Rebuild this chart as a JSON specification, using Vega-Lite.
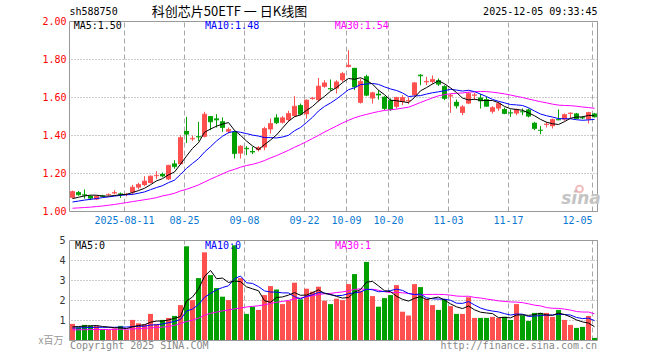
{
"$schema":"https://vega.github.io/schema/vega-lite/v6.json",
"width":528,"height":191,
"autosize":{"type":"none"},
"padding":{"left":69.5,"top":21,"right":62.5,"bottom":148},
"background":"white",
"view":{"stroke":null},
"config":{"text":{"font":"DejaVu Sans Mono","fontSize":10}},
"datasets":{
"pt":[{"p":1.0},{"p":1.2},{"p":1.4},{"p":1.6},{"p":1.8},{"p":2.0}],
"vt":[{"q":1},{"q":2},{"q":3},{"q":4},{"q":5}],
"g":[{"d":"2025-08-11","t":"2025-08-11"},{"d":"2025-08-25","t":"08-25"},{"d":"2025-09-08","t":"09-08"},{"d":"2025-09-22","t":"09-22"},{"d":"2025-10-09","t":"10-09"},{"d":"2025-10-20","t":"10-20"},{"d":"2025-11-03","t":"11-03"},{"d":"2025-11-17","t":"11-17"},{"d":"2025-12-05","t":"12-05"}],
"k":[
{"d":"2025-07-29","o":1.072,"h":1.110,"l":1.068,"c":1.105,"v":0.83,"m5":1.068,"m10":1.050,"m30":1.017,"vm5":0.68,"vm10":0.62,"vm30":0.53},
{"d":"2025-07-30","o":1.102,"h":1.108,"l":1.083,"c":1.088,"v":0.66,"m5":1.075,"m10":1.055,"m30":1.019,"vm5":0.70,"vm10":0.63,"vm30":0.535},
{"d":"2025-07-31","o":1.090,"h":1.116,"l":1.068,"c":1.086,"v":0.78,"m5":1.082,"m10":1.060,"m30":1.021,"vm5":0.72,"vm10":0.64,"vm30":0.54},
{"d":"2025-08-01","o":1.082,"h":1.085,"l":1.060,"c":1.070,"v":0.75,"m5":1.086,"m10":1.064,"m30":1.023,"vm5":0.73,"vm10":0.65,"vm30":0.545},
{"d":"2025-08-04","o":1.063,"h":1.085,"l":1.060,"c":1.081,"v":0.73,"m5":1.086,"m10":1.068,"m30":1.026,"vm5":0.75,"vm10":0.66,"vm30":0.55},
{"d":"2025-08-05","o":1.084,"h":1.088,"l":1.076,"c":1.080,"v":0.58,"m5":1.081,"m10":1.073,"m30":1.029,"vm5":0.70,"vm10":0.66,"vm30":0.55},
{"d":"2025-08-06","o":1.087,"h":1.095,"l":1.082,"c":1.090,"v":0.53,"m5":1.081,"m10":1.077,"m30":1.033,"vm5":0.674,"vm10":0.66,"vm30":0.555},
{"d":"2025-08-07","o":1.095,"h":1.112,"l":1.090,"c":1.100,"v":0.60,"m5":1.084,"m10":1.081,"m30":1.037,"vm5":0.638,"vm10":0.66,"vm30":0.56},
{"d":"2025-08-08","o":1.095,"h":1.100,"l":1.072,"c":1.090,"v":0.73,"m5":1.088,"m10":1.085,"m30":1.042,"vm5":0.634,"vm10":0.67,"vm30":0.56},
{"d":"2025-08-11","o":1.089,"h":1.098,"l":1.080,"c":1.091,"v":0.53,"m5":1.090,"m10":1.088,"m30":1.047,"vm5":0.594,"vm10":0.672,"vm30":0.57},
{"d":"2025-08-12","o":1.100,"h":1.140,"l":1.086,"c":1.128,"v":1.03,"m5":1.100,"m10":1.090,"m30":1.052,"vm5":0.684,"vm10":0.692,"vm30":0.58},
{"d":"2025-08-13","o":1.126,"h":1.151,"l":1.116,"c":1.142,"v":0.86,"m5":1.110,"m10":1.096,"m30":1.057,"vm5":0.75,"vm10":0.712,"vm30":0.59},
{"d":"2025-08-14","o":1.139,"h":1.186,"l":1.133,"c":1.160,"v":0.81,"m5":1.122,"m10":1.103,"m30":1.062,"vm5":0.792,"vm10":0.715,"vm30":0.61},
{"d":"2025-08-15","o":1.150,"h":1.190,"l":1.148,"c":1.186,"v":1.33,"m5":1.141,"m10":1.115,"m30":1.067,"vm5":0.912,"vm10":0.773,"vm30":0.63},
{"d":"2025-08-18","o":1.186,"h":1.212,"l":1.170,"c":1.190,"v":0.83,"m5":1.161,"m10":1.126,"m30":1.073,"vm5":0.972,"vm10":0.783,"vm30":0.65},
{"d":"2025-08-19","o":1.198,"h":1.205,"l":1.180,"c":1.187,"v":1.03,"m5":1.173,"m10":1.136,"m30":1.082,"vm5":0.972,"vm10":0.828,"vm30":0.67},
{"d":"2025-08-20","o":1.169,"h":1.246,"l":1.165,"c":1.243,"v":1.13,"m5":1.193,"m10":1.152,"m30":1.088,"vm5":1.026,"vm10":0.888,"vm30":0.70},
{"d":"2025-08-21","o":1.253,"h":1.270,"l":1.225,"c":1.236,"v":1.23,"m5":1.208,"m10":1.165,"m30":1.096,"vm5":1.11,"vm10":0.951,"vm30":0.76},
{"d":"2025-08-22","o":1.249,"h":1.402,"l":1.245,"c":1.389,"v":1.77,"m5":1.249,"m10":1.195,"m30":1.108,"vm5":1.198,"vm10":1.055,"vm30":0.85},
{"d":"2025-08-25","o":1.424,"h":1.498,"l":1.361,"c":1.407,"v":4.71,"m5":1.292,"m10":1.227,"m30":1.117,"vm5":1.974,"vm10":1.473,"vm30":0.95},
{"d":"2025-08-26","o":1.380,"h":1.400,"l":1.372,"c":1.385,"v":2.02,"m5":1.332,"m10":1.253,"m30":1.128,"vm5":2.172,"vm10":1.572,"vm30":1.02},
{"d":"2025-08-27","o":1.396,"h":1.472,"l":1.372,"c":1.392,"v":3.12,"m5":1.362,"m10":1.278,"m30":1.140,"vm5":2.57,"vm10":1.798,"vm30":1.12},
{"d":"2025-08-28","o":1.393,"h":1.525,"l":1.390,"c":1.512,"v":4.41,"m5":1.417,"m10":1.313,"m30":1.155,"vm5":3.206,"vm10":2.158,"vm30":1.26},
{"d":"2025-08-29","o":1.502,"h":1.503,"l":1.428,"c":1.472,"v":3.27,"m5":1.434,"m10":1.341,"m30":1.170,"vm5":3.506,"vm10":2.352,"vm30":1.36},
{"d":"2025-09-01","o":1.490,"h":1.512,"l":1.442,"c":1.482,"v":2.62,"m5":1.449,"m10":1.371,"m30":1.184,"vm5":3.088,"vm10":2.531,"vm30":1.42},
{"d":"2025-09-02","o":1.475,"h":1.495,"l":1.419,"c":1.442,"v":2.19,"m5":1.460,"m10":1.396,"m30":1.198,"vm5":3.122,"vm10":2.647,"vm30":1.48},
{"d":"2025-09-03","o":1.420,"h":1.442,"l":1.412,"c":1.432,"v":2.02,"m5":1.468,"m10":1.415,"m30":1.212,"vm5":2.902,"vm10":2.736,"vm30":1.53},
{"d":"2025-09-04","o":1.419,"h":1.425,"l":1.279,"c":1.305,"v":4.76,"m5":1.427,"m10":1.422,"m30":1.222,"vm5":2.972,"vm10":3.089,"vm30":1.58},
{"d":"2025-09-05","o":1.305,"h":1.349,"l":1.279,"c":1.344,"v":3.12,"m5":1.401,"m10":1.417,"m30":1.233,"vm5":2.942,"vm10":3.224,"vm30":1.62},
{"d":"2025-09-08","o":1.335,"h":1.344,"l":1.297,"c":1.330,"v":1.33,"m5":1.371,"m10":1.410,"m30":1.242,"vm5":2.684,"vm10":2.886,"vm30":1.678},
{"d":"2025-09-09","o":1.318,"h":1.340,"l":1.302,"c":1.313,"v":1.69,"m5":1.345,"m10":1.402,"m30":1.248,"vm5":2.584,"vm10":2.853,"vm30":1.707},
{"d":"2025-09-10","o":1.323,"h":1.344,"l":1.316,"c":1.337,"v":1.53,"m5":1.326,"m10":1.397,"m30":1.257,"vm5":2.486,"vm10":2.694,"vm30":1.736},
{"d":"2025-09-11","o":1.337,"h":1.446,"l":1.323,"c":1.437,"v":2.27,"m5":1.352,"m10":1.389,"m30":1.268,"vm5":1.988,"vm10":2.48,"vm30":1.785},
{"d":"2025-09-12","o":1.432,"h":1.489,"l":1.410,"c":1.463,"v":2.72,"m5":1.376,"m10":1.389,"m30":1.282,"vm5":1.908,"vm10":2.425,"vm30":1.851},
{"d":"2025-09-15","o":1.495,"h":1.512,"l":1.460,"c":1.467,"v":2.55,"m5":1.403,"m10":1.387,"m30":1.294,"vm5":2.152,"vm10":2.418,"vm30":1.912},
{"d":"2025-09-16","o":1.467,"h":1.502,"l":1.463,"c":1.493,"v":1.82,"m5":1.439,"m10":1.392,"m30":1.308,"vm5":2.178,"vm10":2.381,"vm30":1.953},
{"d":"2025-09-17","o":1.481,"h":1.530,"l":1.472,"c":1.516,"v":1.99,"m5":1.475,"m10":1.401,"m30":1.322,"vm5":2.27,"vm10":2.378,"vm30":2.002},
{"d":"2025-09-18","o":1.502,"h":1.607,"l":1.498,"c":1.554,"v":2.89,"m5":1.499,"m10":1.425,"m30":1.338,"vm5":2.394,"vm10":2.191,"vm30":2.078},
{"d":"2025-09-19","o":1.560,"h":1.568,"l":1.507,"c":1.512,"v":2.06,"m5":1.508,"m10":1.442,"m30":1.352,"vm5":2.262,"vm10":2.085,"vm30":2.122},
{"d":"2025-09-22","o":1.512,"h":1.590,"l":1.489,"c":1.586,"v":2.59,"m5":1.532,"m10":1.468,"m30":1.368,"vm5":2.27,"vm10":2.211,"vm30":2.191},
{"d":"2025-09-23","o":1.592,"h":1.603,"l":1.588,"c":1.597,"v":2.44,"m5":1.553,"m10":1.496,"m30":1.384,"vm5":2.394,"vm10":2.286,"vm30":2.238},
{"d":"2025-09-24","o":1.586,"h":1.703,"l":1.577,"c":1.660,"v":2.69,"m5":1.582,"m10":1.529,"m30":1.401,"vm5":2.534,"vm10":2.402,"vm30":2.299},
{"d":"2025-09-25","o":1.656,"h":1.691,"l":1.651,"c":1.677,"v":1.99,"m5":1.606,"m10":1.553,"m30":1.418,"vm5":2.354,"vm10":2.374,"vm30":2.338},
{"d":"2025-09-26","o":1.649,"h":1.695,"l":1.635,"c":1.645,"v":1.82,"m5":1.633,"m10":1.571,"m30":1.434,"vm5":2.306,"vm10":2.284,"vm30":2.355},
{"d":"2025-09-29","o":1.647,"h":1.691,"l":1.621,"c":1.682,"v":2.09,"m5":1.652,"m10":1.592,"m30":1.450,"vm5":2.206,"vm10":2.238,"vm30":2.397},
{"d":"2025-09-30","o":1.691,"h":1.735,"l":1.682,"c":1.726,"v":2.02,"m5":1.678,"m10":1.616,"m30":1.466,"vm5":2.122,"vm10":2.258,"vm30":2.43},
{"d":"2025-10-09","o":1.761,"h":1.849,"l":1.758,"c":1.770,"v":2.82,"m5":1.700,"m10":1.641,"m30":1.480,"vm5":2.148,"vm10":2.341,"vm30":2.486},
{"d":"2025-10-10","o":1.756,"h":1.756,"l":1.639,"c":1.656,"v":3.32,"m5":1.696,"m10":1.651,"m30":1.493,"vm5":2.414,"vm10":2.384,"vm30":2.556},
{"d":"2025-10-13","o":1.572,"h":1.700,"l":1.568,"c":1.685,"v":2.49,"m5":1.704,"m10":1.668,"m30":1.503,"vm5":2.548,"vm10":2.427,"vm30":2.58},
{"d":"2025-10-14","o":1.712,"h":1.720,"l":1.607,"c":1.612,"v":3.93,"m5":1.690,"m10":1.671,"m30":1.511,"vm5":2.916,"vm10":2.561,"vm30":2.554},
{"d":"2025-10-15","o":1.595,"h":1.630,"l":1.568,"c":1.625,"v":2.22,"m5":1.670,"m10":1.674,"m30":1.519,"vm5":2.956,"vm10":2.539,"vm30":2.56},
{"d":"2025-10-16","o":1.620,"h":1.639,"l":1.589,"c":1.613,"v":1.69,"m5":1.638,"m10":1.669,"m30":1.526,"vm5":2.73,"vm10":2.439,"vm30":2.513},
{"d":"2025-10-17","o":1.604,"h":1.607,"l":1.533,"c":1.542,"v":2.12,"m5":1.615,"m10":1.656,"m30":1.532,"vm5":2.49,"vm10":2.452,"vm30":2.436},
{"d":"2025-10-20","o":1.586,"h":1.595,"l":1.530,"c":1.537,"v":2.27,"m5":1.586,"m10":1.645,"m30":1.535,"vm5":2.446,"vm10":2.497,"vm30":2.403},
{"d":"2025-10-21","o":1.551,"h":1.604,"l":1.542,"c":1.600,"v":2.77,"m5":1.583,"m10":1.637,"m30":1.539,"vm5":2.214,"vm10":2.565,"vm30":2.408},
{"d":"2025-10-22","o":1.577,"h":1.612,"l":1.560,"c":1.600,"v":1.44,"m5":1.578,"m10":1.624,"m30":1.544,"vm5":2.058,"vm10":2.507,"vm30":2.383},
{"d":"2025-10-23","o":1.580,"h":1.600,"l":1.565,"c":1.584,"v":1.25,"m5":1.573,"m10":1.605,"m30":1.549,"vm5":1.97,"vm10":2.35,"vm30":2.357},
{"d":"2025-10-24","o":1.612,"h":1.682,"l":1.604,"c":1.677,"v":2.82,"m5":1.600,"m10":1.608,"m30":1.561,"vm5":2.11,"vm10":2.30,"vm30":2.293},
{"d":"2025-10-27","o":1.720,"h":1.723,"l":1.665,"c":1.714,"v":2.67,"m5":1.635,"m10":1.610,"m30":1.574,"vm5":2.19,"vm10":2.318,"vm30":2.278},
{"d":"2025-10-28","o":1.680,"h":1.709,"l":1.665,"c":1.685,"v":2.07,"m5":1.652,"m10":1.618,"m30":1.586,"vm5":2.05,"vm10":2.132,"vm30":2.302},
{"d":"2025-10-29","o":1.682,"h":1.716,"l":1.673,"c":1.695,"v":1.77,"m5":1.671,"m10":1.625,"m30":1.598,"vm5":2.116,"vm10":2.087,"vm30":2.305},
{"d":"2025-10-30","o":1.691,"h":1.700,"l":1.661,"c":1.670,"v":1.53,"m5":1.688,"m10":1.630,"m30":1.609,"vm5":2.172,"vm10":2.071,"vm30":2.305},
{"d":"2025-10-31","o":1.660,"h":1.665,"l":1.586,"c":1.595,"v":2.07,"m5":1.672,"m10":1.636,"m30":1.615,"vm5":2.022,"vm10":2.066,"vm30":2.298},
{"d":"2025-11-03","o":1.605,"h":1.618,"l":1.519,"c":1.612,"v":1.72,"m5":1.651,"m10":1.643,"m30":1.620,"vm5":1.832,"vm10":2.011,"vm30":2.265},
{"d":"2025-11-04","o":1.577,"h":1.589,"l":1.542,"c":1.556,"v":1.33,"m5":1.626,"m10":1.639,"m30":1.622,"vm5":1.684,"vm10":1.867,"vm30":2.224},
{"d":"2025-11-05","o":1.519,"h":1.560,"l":1.507,"c":1.551,"v":1.33,"m5":1.597,"m10":1.634,"m30":1.624,"vm5":1.596,"vm10":1.856,"vm30":2.208},
{"d":"2025-11-06","o":1.568,"h":1.630,"l":1.565,"c":1.621,"v":2.16,"m5":1.587,"m10":1.638,"m30":1.628,"vm5":1.722,"vm10":1.947,"vm30":2.214},
{"d":"2025-11-07","o":1.610,"h":1.625,"l":1.586,"c":1.614,"v":1.13,"m5":1.591,"m10":1.631,"m30":1.630,"vm5":1.534,"vm10":1.778,"vm30":2.155},
{"d":"2025-11-10","o":1.600,"h":1.618,"l":1.542,"c":1.582,"v":1.13,"m5":1.585,"m10":1.618,"m30":1.632,"vm5":1.416,"vm10":1.624,"vm30":2.124},
{"d":"2025-11-11","o":1.591,"h":1.604,"l":1.551,"c":1.554,"v":1.13,"m5":1.584,"m10":1.605,"m30":1.631,"vm5":1.376,"vm10":1.53,"vm30":2.075},
{"d":"2025-11-12","o":1.525,"h":1.554,"l":1.516,"c":1.547,"v":1.18,"m5":1.584,"m10":1.590,"m30":1.628,"vm5":1.346,"vm10":1.471,"vm30":2.033},
{"d":"2025-11-13","o":1.542,"h":1.577,"l":1.530,"c":1.568,"v":1.13,"m5":1.573,"m10":1.580,"m30":1.624,"vm5":1.14,"vm10":1.431,"vm30":1.981},
{"d":"2025-11-14","o":1.539,"h":1.547,"l":1.512,"c":1.516,"v":1.19,"m5":1.553,"m10":1.572,"m30":1.619,"vm5":1.152,"vm10":1.343,"vm30":1.955},
{"d":"2025-11-17","o":1.521,"h":1.537,"l":1.498,"c":1.518,"v":1.03,"m5":1.541,"m10":1.563,"m30":1.613,"vm5":1.132,"vm10":1.274,"vm30":1.928},
{"d":"2025-11-18","o":1.516,"h":1.542,"l":1.507,"c":1.537,"v":1.82,"m5":1.537,"m10":1.561,"m30":1.606,"vm5":1.27,"vm10":1.323,"vm30":1.919},
{"d":"2025-11-19","o":1.527,"h":1.542,"l":1.507,"c":1.524,"v":1.26,"m5":1.533,"m10":1.558,"m30":1.600,"vm5":1.286,"vm10":1.316,"vm30":1.894},
{"d":"2025-11-20","o":1.537,"h":1.542,"l":1.495,"c":1.502,"v":0.98,"m5":1.519,"m10":1.546,"m30":1.592,"vm5":1.256,"vm10":1.198,"vm30":1.833},
{"d":"2025-11-21","o":1.467,"h":1.472,"l":1.428,"c":1.437,"v":1.38,"m5":1.504,"m10":1.529,"m30":1.585,"vm5":1.294,"vm10":1.223,"vm30":1.768},
{"d":"2025-11-24","o":1.430,"h":1.449,"l":1.407,"c":1.427,"v":1.38,"m5":1.485,"m10":1.513,"m30":1.578,"vm5":1.364,"vm10":1.248,"vm30":1.731},
{"d":"2025-11-25","o":1.456,"h":1.472,"l":1.442,"c":1.460,"v":1.38,"m5":1.470,"m10":1.504,"m30":1.572,"vm5":1.276,"vm10":1.273,"vm30":1.646},
{"d":"2025-11-26","o":1.449,"h":1.489,"l":1.437,"c":1.484,"v":1.18,"m5":1.462,"m10":1.497,"m30":1.565,"vm5":1.26,"vm10":1.273,"vm30":1.611},
{"d":"2025-11-27","o":1.486,"h":1.537,"l":1.481,"c":1.482,"v":1.53,"m5":1.458,"m10":1.489,"m30":1.560,"vm5":1.37,"vm10":1.313,"vm30":1.606},
{"d":"2025-11-28","o":1.484,"h":1.516,"l":1.477,"c":1.510,"v":1.03,"m5":1.473,"m10":1.488,"m30":1.558,"vm5":1.30,"vm10":1.297,"vm30":1.57},
{"d":"2025-12-01","o":1.514,"h":1.521,"l":1.489,"c":1.518,"v":0.78,"m5":1.491,"m10":1.488,"m30":1.557,"vm5":1.18,"vm10":1.272,"vm30":1.52},
{"d":"2025-12-02","o":1.516,"h":1.519,"l":1.486,"c":1.489,"v":0.63,"m5":1.497,"m10":1.483,"m30":1.554,"vm5":1.03,"vm10":1.153,"vm30":1.449},
{"d":"2025-12-03","o":1.495,"h":1.502,"l":1.486,"c":1.492,"v":0.68,"m5":1.498,"m10":1.480,"m30":1.550,"vm5":0.93,"vm10":1.095,"vm30":1.423},
{"d":"2025-12-04","o":1.484,"h":1.525,"l":1.463,"c":1.521,"v":1.23,"m5":1.506,"m10":1.482,"m30":1.547,"vm5":0.87,"vm10":1.12,"vm30":1.423},
{"d":"2025-12-05","o":1.516,"h":1.519,"l":1.495,"c":1.498,"v":0.13,"m5":1.504,"m10":1.485,"m30":1.543,"vm5":0.69,"vm10":0.995,"vm30":1.333}
]},
"data":{"name":"k"},
"resolve":{"scale":{"y":"independent"},"axis":{"y":"independent"}},
"layer":[
{"layer":[
 {"data":{"name":"pt"},"mark":{"type":"rule","color":"#999999","strokeDash":[1,2],"strokeWidth":1},
  "encoding":{"y":{"field":"p","type":"quantitative","axis":null,"scale":{"domain":[1,2],"range":[190.5,0.5],"nice":false,"zero":false}}}},
 {"data":{"name":"g"},"mark":{"type":"rule","color":"#a8a8a8","strokeDash":[5,3],"strokeWidth":1},
  "encoding":{"x":{"field":"d","type":"ordinal","bandPosition":0.1667,"axis":null,"scale":{"type":"band","paddingInner":0,"paddingOuter":0}},
   "y":{"datum":1,"type":"quantitative","axis":null},"y2":{"datum":2}}},
 {"mark":{"type":"bar","size":5},
  "encoding":{"x":{"field":"d","type":"ordinal","axis":null},
   "y":{"field":"o","type":"quantitative","axis":null},"y2":{"field":"c"},
   "color":{"condition":{"test":"datum.c >= datum.o","value":"#ff5050"},"value":"#00a000"}}},
 {"mark":{"type":"rule","strokeWidth":1},
  "encoding":{"x":{"field":"d","type":"ordinal","bandPosition":0.5,"axis":null},
   "y":{"field":"l","type":"quantitative","axis":null},"y2":{"field":"h"},
   "color":{"condition":{"test":"datum.c >= datum.o","value":"#ff5050"},"value":"#00a000"}}},
 {"mark":{"type":"tick","size":5,"thickness":1},
  "encoding":{"x":{"field":"d","type":"ordinal","axis":null},
   "y":{"field":"c","type":"quantitative","axis":null},
   "color":{"condition":{"test":"datum.c >= datum.o","value":"#ff5050"},"value":"#00a000"}}},
 {"mark":{"type":"line","color":"#ff00ff","strokeWidth":1},
  "encoding":{"x":{"field":"d","type":"ordinal","bandPosition":0.5,"axis":null},"y":{"field":"m30","type":"quantitative","axis":null}}},
 {"mark":{"type":"line","color":"#0000ff","strokeWidth":1},
  "encoding":{"x":{"field":"d","type":"ordinal","bandPosition":0.5,"axis":null},"y":{"field":"m10","type":"quantitative","axis":null}}},
 {"mark":{"type":"line","color":"#000000","strokeWidth":1},
  "encoding":{"x":{"field":"d","type":"ordinal","bandPosition":0.5,"axis":null},"y":{"field":"m5","type":"quantitative","axis":null}}},
 {"data":{"values":[{}]},"mark":{"type":"rule","color":"#999999","strokeWidth":1},"encoding":{"y":{"datum":2,"type":"quantitative","axis":null}}},
 {"data":{"values":[{}]},"mark":{"type":"rule","color":"#999999","strokeWidth":1},"encoding":{"y":{"datum":1,"type":"quantitative","axis":null}}},
 {"data":{"values":[{}]},"mark":{"type":"rule","color":"#999999","strokeWidth":1},
  "encoding":{"x":{"datum":"2025-07-29","type":"ordinal","bandPosition":0,"axis":null},"y":{"datum":1,"type":"quantitative","axis":null},"y2":{"datum":2}}},
 {"data":{"values":[{}]},"mark":{"type":"rule","color":"#999999","strokeWidth":1},
  "encoding":{"x":{"datum":"2025-12-05","type":"ordinal","bandPosition":1,"axis":null},"y":{"datum":1,"type":"quantitative","axis":null},"y2":{"datum":2}}},
 {"data":{"name":"pt"},"mark":{"type":"text","align":"right","baseline":"middle","color":"#ff0000","font":"DejaVu Sans Mono","fontSize":10,"dx":-3},
  "encoding":{"x":{"datum":"2025-07-29","type":"ordinal","bandPosition":0,"axis":null},"y":{"field":"p","type":"quantitative","axis":null},"text":{"field":"p","type":"quantitative","format":".2f"}}},
 {"data":{"name":"g"},"transform":[{"filter":"datum.d != '2025-12-05'"}],
  "mark":{"type":"text","align":"center","baseline":"middle","color":"#0a78d2","font":"DejaVu Sans Mono","fontSize":10},
  "encoding":{"x":{"field":"d","type":"ordinal","bandPosition":0.1667,"axis":null},"y":{"datum":0.95,"type":"quantitative","axis":null},"text":{"field":"t"}}},
 {"data":{"name":"g"},"transform":[{"filter":"datum.d == '2025-12-05'"}],
  "mark":{"type":"text","align":"right","baseline":"middle","color":"#0a78d2","font":"DejaVu Sans Mono","fontSize":10},
  "encoding":{"x":{"field":"d","type":"ordinal","bandPosition":0.1667,"axis":null},"y":{"datum":0.95,"type":"quantitative","axis":null},"text":{"field":"t"}}},
 {"data":{"values":[{}]},"mark":{"type":"text","align":"left","baseline":"middle","color":"#000000","font":"DejaVu Sans Mono","fontSize":10},
  "encoding":{"x":{"datum":"2025-07-29","type":"ordinal","bandPosition":0,"axis":null},"y":{"datum":2.0474,"type":"quantitative","axis":null},"text":{"value":"sh588750"}}},
 {"data":{"values":[{}]},"mark":{"type":"text","align":"center","baseline":"middle","color":"#000000","font":"Noto Sans CJK SC","fontSize":13},
  "encoding":{"x":{"datum":"2025-09-03","type":"ordinal","bandPosition":0.667,"axis":null},"y":{"datum":2.0474,"type":"quantitative","axis":null},"text":{"value":"科创芯片50ETF 一 日K线图"}}},
 {"data":{"values":[{}]},"mark":{"type":"text","align":"right","baseline":"middle","color":"#000000","font":"DejaVu Sans Mono","fontSize":10},
  "encoding":{"x":{"datum":"2025-12-05","type":"ordinal","bandPosition":1,"axis":null},"y":{"datum":2.0474,"type":"quantitative","axis":null},"text":{"value":"2025-12-05 09:33:45"}}},
 {"data":{"values":[{}]},"mark":{"type":"text","align":"left","baseline":"middle","color":"#000000","font":"DejaVu Sans Mono","fontSize":10},
  "encoding":{"x":{"datum":"2025-07-29","type":"ordinal","bandPosition":0.7,"axis":null},"y":{"datum":1.9774,"type":"quantitative","axis":null},"text":{"value":"MA5:1.50"}}},
 {"data":{"values":[{}]},"mark":{"type":"text","align":"left","baseline":"middle","color":"#0000ff","font":"DejaVu Sans Mono","fontSize":10},
  "encoding":{"x":{"datum":"2025-08-28","type":"ordinal","bandPosition":0.583,"axis":null},"y":{"datum":1.9774,"type":"quantitative","axis":null},"text":{"value":"MA10:1.48"}}},
 {"data":{"values":[{}]},"mark":{"type":"text","align":"left","baseline":"middle","color":"#ff00ff","font":"DejaVu Sans Mono","fontSize":10},
  "encoding":{"x":{"datum":"2025-09-29","type":"ordinal","bandPosition":0.2,"axis":null},"y":{"datum":1.9774,"type":"quantitative","axis":null},"text":{"value":"MA30:1.54"}}},
 {"data":{"values":[{}]},"mark":{"type":"text","align":"center","baseline":"middle","color":"#c4c4c4","font":"DejaVu Sans","fontSize":17,"fontWeight":"bold","fontStyle":"italic"},
  "encoding":{"x":{"datum":"2025-12-03","type":"ordinal","bandPosition":0.25,"axis":null},"y":{"datum":1.0658,"type":"quantitative","axis":null},"text":{"value":"sina"}}},
 {"data":{"values":[{}]},"mark":{"type":"point","shape":"circle","filled":false,"stroke":"#eba0a0","strokeWidth":2,"size":45},
  "encoding":{"x":{"datum":"2025-12-02","type":"ordinal","bandPosition":1,"axis":null},"y":{"datum":1.1184,"type":"quantitative","axis":null}}}
]},
{"layer":[
 {"data":{"name":"vt"},"mark":{"type":"rule","color":"#999999","strokeDash":[1,2],"strokeWidth":1},
  "encoding":{"y":{"field":"q","type":"quantitative","axis":null,"scale":{"domain":[0,5],"range":[319.5,219.5],"nice":false,"zero":false}}}},
 {"data":{"name":"g"},"mark":{"type":"rule","color":"#a8a8a8","strokeDash":[5,3],"strokeWidth":1},
  "encoding":{"x":{"field":"d","type":"ordinal","bandPosition":0.1667,"axis":null},
   "y":{"datum":0,"type":"quantitative","axis":null},"y2":{"datum":5}}},
 {"mark":{"type":"bar","size":5},
  "encoding":{"x":{"field":"d","type":"ordinal","axis":null},
   "y":{"field":"v","type":"quantitative","axis":null},
   "color":{"condition":{"test":"datum.c >= datum.o","value":"#ff5050"},"value":"#00a000"}}},
 {"mark":{"type":"line","color":"#ff00ff","strokeWidth":1},
  "encoding":{"x":{"field":"d","type":"ordinal","bandPosition":0.5,"axis":null},"y":{"field":"vm30","type":"quantitative","axis":null}}},
 {"mark":{"type":"line","color":"#0000ff","strokeWidth":1},
  "encoding":{"x":{"field":"d","type":"ordinal","bandPosition":0.5,"axis":null},"y":{"field":"vm10","type":"quantitative","axis":null}}},
 {"mark":{"type":"line","color":"#000000","strokeWidth":1},
  "encoding":{"x":{"field":"d","type":"ordinal","bandPosition":0.5,"axis":null},"y":{"field":"vm5","type":"quantitative","axis":null}}},
 {"data":{"values":[{}]},"mark":{"type":"rule","color":"#999999","strokeWidth":1},"encoding":{"y":{"datum":5,"type":"quantitative","axis":null}}},
 {"data":{"values":[{}]},"mark":{"type":"rule","color":"#999999","strokeWidth":1},"encoding":{"y":{"datum":0,"type":"quantitative","axis":null}}},
 {"data":{"values":[{}]},"mark":{"type":"rule","color":"#999999","strokeWidth":1},
  "encoding":{"x":{"datum":"2025-07-29","type":"ordinal","bandPosition":0,"axis":null},"y":{"datum":0,"type":"quantitative","axis":null},"y2":{"datum":5}}},
 {"data":{"values":[{}]},"mark":{"type":"rule","color":"#999999","strokeWidth":1},
  "encoding":{"x":{"datum":"2025-12-05","type":"ordinal","bandPosition":1,"axis":null},"y":{"datum":0,"type":"quantitative","axis":null},"y2":{"datum":5}}},
 {"data":{"name":"vt"},"mark":{"type":"text","align":"right","baseline":"middle","color":"#333333","font":"DejaVu Sans Mono","fontSize":10,"dx":-4},
  "encoding":{"x":{"datum":"2025-07-29","type":"ordinal","bandPosition":0,"axis":null},"y":{"field":"q","type":"quantitative","axis":null},"text":{"field":"q","type":"quantitative","format":"d"}}},
 {"data":{"values":[{}]},"mark":{"type":"text","align":"left","baseline":"middle","color":"#000000","font":"DejaVu Sans Mono","fontSize":10},
  "encoding":{"x":{"datum":"2025-07-29","type":"ordinal","bandPosition":0.92,"axis":null},"y":{"datum":4.71,"type":"quantitative","axis":null},"text":{"value":"MA5:0"}}},
 {"data":{"values":[{}]},"mark":{"type":"text","align":"left","baseline":"middle","color":"#0000ff","font":"DejaVu Sans Mono","fontSize":10},
  "encoding":{"x":{"datum":"2025-08-28","type":"ordinal","bandPosition":0.583,"axis":null},"y":{"datum":4.71,"type":"quantitative","axis":null},"text":{"value":"MA10:0"}}},
 {"data":{"values":[{}]},"mark":{"type":"text","align":"left","baseline":"middle","color":"#ff00ff","font":"DejaVu Sans Mono","fontSize":10},
  "encoding":{"x":{"datum":"2025-09-29","type":"ordinal","bandPosition":0.25,"axis":null},"y":{"datum":4.71,"type":"quantitative","axis":null},"text":{"value":"MA30:1"}}},
 {"data":{"values":[{}]},"mark":{"type":"text","align":"left","baseline":"middle","color":"#888888","font":"DejaVu Sans Mono","fontSize":10},
  "encoding":{"x":{"datum":"2025-07-29","type":"ordinal","bandPosition":0.083,"axis":null},"y":{"datum":-0.275,"type":"quantitative","axis":null},"text":{"value":"Copyright 2025 SINA.COM"}}},
 {"data":{"values":[{}]},"mark":{"type":"text","align":"right","baseline":"middle","color":"#888888","font":"DejaVu Sans Mono","fontSize":10},
  "encoding":{"x":{"datum":"2025-12-05","type":"ordinal","bandPosition":0.92,"axis":null},"y":{"datum":-0.275,"type":"quantitative","axis":null},"text":{"value":"http://finance.sina.com.cn"}}},
 {"data":{"values":[{}]},"mark":{"type":"text","align":"right","baseline":"middle","color":"#999999","font":"Noto Sans CJK SC","fontSize":10,"dx":-6},
  "encoding":{"x":{"datum":"2025-07-29","type":"ordinal","bandPosition":0,"axis":null},"y":{"datum":0.0,"type":"quantitative","axis":null},"text":{"value":"x百万"}}}
]}
]
}
